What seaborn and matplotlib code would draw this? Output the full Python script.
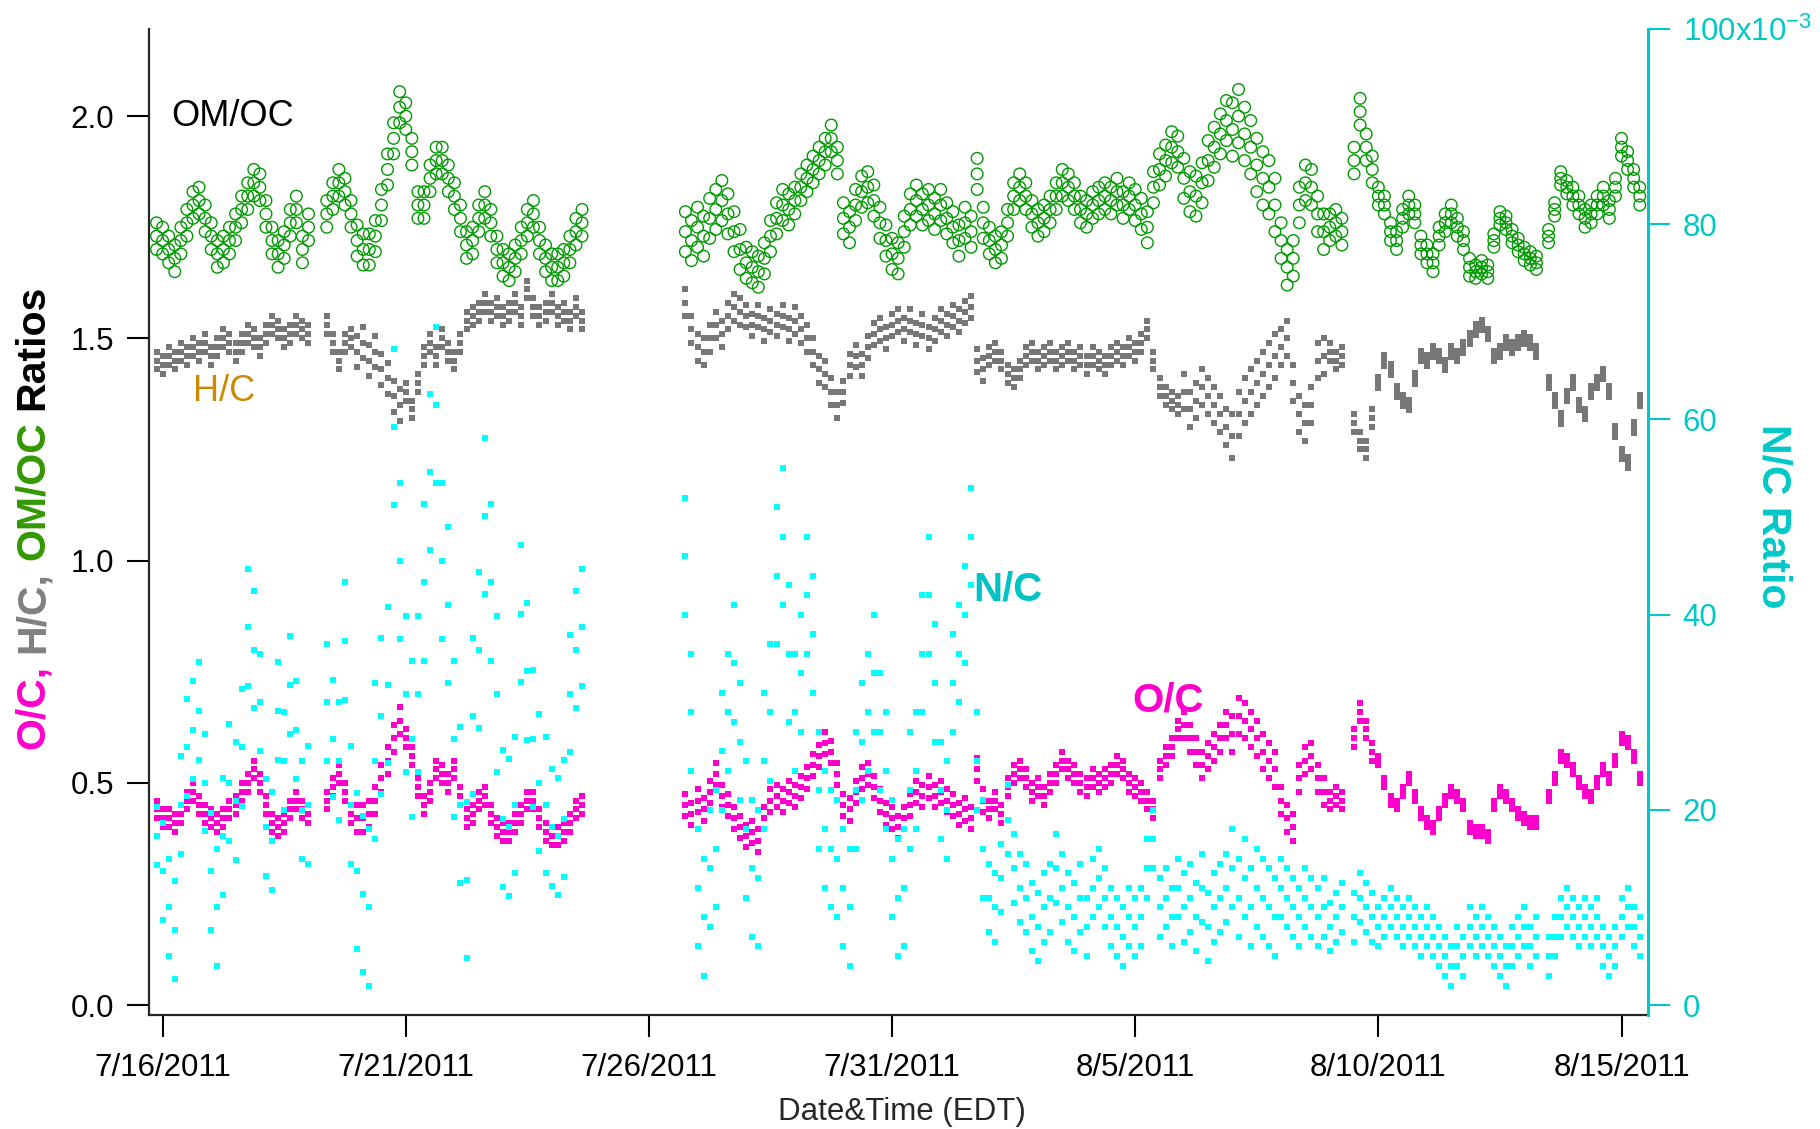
import numpy as np
import pandas as pd
import matplotlib
matplotlib.use("Agg")
import matplotlib.pyplot as plt
import matplotlib.dates as mdates
from matplotlib.ticker import FixedLocator, FixedFormatter
import seaborn as sns

nan = np.nan

# ---------------- data (3-hour sampling) ----------------
SEG1_START = "2011-07-15 21:00"   # first campaign block
SEG2_START = "2011-07-26 18:00"   # second campaign block
STEP = "3h"
DAY0 = "2011-07-15"               # first calendar day of the band-width lists

# OM/OC (left axis) - band centre
om_oc_seg1 = [1.73,
    1.72, 1.70, 1.68, 1.72, 1.76, 1.80, 1.81, 1.77,
    1.73, 1.69, 1.70, 1.72, 1.75, 1.79, 1.82, 1.85,
    1.84, 1.78, 1.72, 1.69, 1.71, 1.76, 1.79, 1.70,
    1.75, nan, nan, 1.78, 1.82, 1.85, 1.83, 1.78,
    1.72, 1.70, 1.70, 1.73, 1.80, 1.88, 1.95, 2.02,
    2.00, 1.92, 1.80, 1.80, 1.86, 1.90, 1.90, 1.86,
    1.82, 1.77, 1.71, 1.72, 1.77, 1.80, 1.76, 1.70,
    1.67, 1.66, 1.68, 1.72, 1.76, 1.78, 1.72, 1.68,
    1.66, 1.66, 1.67, 1.70, 1.74, 1.76]
om_oc_seg2 = [1.74, 1.72,
    1.75, 1.73, 1.77, 1.79, 1.81, 1.78, 1.74, 1.70,
    1.67, 1.66, 1.65, 1.68, 1.73, 1.77, 1.80, 1.79,
    1.81, 1.84, 1.86, 1.88, 1.90, 1.92, 1.95, 1.90,
    1.77, 1.75, 1.80, 1.83, 1.84, 1.81, 1.76, 1.72,
    1.69, 1.68, 1.74, 1.79, 1.81, 1.79, 1.80, 1.78,
    1.80, 1.77, 1.75, 1.72, 1.76, 1.74, 1.87, 1.76,
    1.72, 1.70, 1.71, 1.76, 1.82, 1.84, 1.82, 1.78,
    1.76, 1.77, 1.79, 1.82, 1.85, 1.84, 1.82, 1.79,
    1.78, 1.80, 1.81, 1.82, 1.81, 1.83, 1.80, 1.82,
    1.80, 1.78, 1.75, 1.84, 1.88, 1.90, 1.93, 1.92,
    1.86, 1.83, 1.82, 1.85, 1.90, 1.93, 1.96, 1.99,
    1.97, 2.00, 1.96, 1.93, 1.89, 1.86, 1.84, 1.80,
    1.72, 1.66, 1.68, 1.80, 1.85, 1.84, 1.78, 1.74,
    1.75, 1.76, 1.74, nan, 1.90, 2.01, 1.93, 1.88,
    1.82, 1.80, 1.74, 1.72, 1.77, 1.80, 1.78, 1.71,
    1.69, 1.67, 1.73, 1.76, 1.78, 1.75, 1.72, 1.66,
    1.65, 1.66, 1.65, 1.72, 1.77, 1.76, 1.73, 1.71,
    1.69, 1.68, 1.67, nan, 1.73, 1.79, 1.86, 1.84,
    1.82, 1.80, 1.77, 1.78, 1.80, 1.82, 1.79, 1.84,
    1.93, 1.90, 1.86, 1.82]
# half-width of the OM/OC point cloud, per calendar day 7/15 ... 8/15
om_oc_spread = [0.03, 0.03, 0.03, 0.03, 0.03, 0.035, 0.03, 0.03, 0.03, 0.03,
                0.0, 0.045, 0.045, 0.035, 0.03, 0.035, 0.035, 0.035, 0.03, 0.03,
                0.03, 0.035, 0.045, 0.06, 0.04, 0.03, 0.02, 0.02, 0.015, 0.015,
                0.02, 0.02]

# H/C (left axis)
h_c_seg1 = [1.45,
    1.44, 1.46, 1.45, 1.47, 1.46, 1.48, 1.47, 1.49,
    1.46, 1.48, 1.50, 1.49, 1.47, 1.49, 1.51, 1.50,
    1.48, 1.51, 1.53, 1.52, 1.50, 1.51, 1.53, 1.52,
    1.51, nan, nan, 1.53, 1.49, 1.45, 1.49, 1.50,
    1.47, 1.49, 1.45, 1.47, 1.43, 1.41, 1.37, 1.35,
    1.38, 1.34, 1.40, 1.46, 1.49, 1.46, 1.50, 1.47,
    1.45, 1.49, 1.54, 1.55, 1.56, 1.58, 1.56, 1.57,
    1.55, 1.56, 1.58, 1.55, 1.61, 1.57, 1.55, 1.56,
    1.58, 1.55, 1.56, 1.54, 1.57, 1.54]
h_c_seg2 = [1.58, 1.52,
    1.48, 1.47, 1.50, 1.53, 1.51, 1.55, 1.57, 1.56,
    1.55, 1.53, 1.55, 1.52, 1.54, 1.53, 1.55, 1.52,
    1.54, 1.52, 1.50, 1.47, 1.43, 1.42, 1.38, 1.35,
    1.38, 1.44, 1.46, 1.44, 1.48, 1.51, 1.52, 1.50,
    1.53, 1.54, 1.52, 1.54, 1.51, 1.53, 1.50, 1.52,
    1.54, 1.53, 1.55, 1.54, 1.56, 1.57, 1.45, 1.43,
    1.46, 1.47, 1.45, 1.42, 1.41, 1.43, 1.46, 1.47,
    1.45, 1.46, 1.47, 1.45, 1.46, 1.47, 1.45, 1.46,
    1.44, 1.46, 1.45, 1.44, 1.46, 1.47, 1.46, 1.48,
    1.47, 1.49, 1.52, 1.45, 1.39, 1.37, 1.36, 1.35,
    1.38, 1.34, 1.36, 1.39, 1.37, 1.35, 1.33, 1.30,
    1.28, 1.33, 1.36, 1.38, 1.40, 1.42, 1.44, 1.46,
    1.48, 1.50, 1.40, 1.33, 1.31, 1.35, 1.45, 1.46,
    1.47, 1.45, 1.46, nan, 1.31, 1.27, 1.25, 1.32,
    1.40, 1.45, 1.43, 1.38, 1.36, 1.35, 1.41, 1.46,
    1.45, 1.47, 1.46, 1.44, 1.47, 1.46, 1.48, 1.50,
    1.52, 1.53, 1.51, 1.46, 1.47, 1.49, 1.48, 1.49,
    1.50, 1.49, 1.47, nan, 1.40, 1.36, 1.32, 1.37,
    1.40, 1.35, 1.33, 1.38, 1.40, 1.42, 1.38, 1.29,
    1.24, 1.22, 1.30, 1.36]
h_c_spread = [0.02, 0.02, 0.02, 0.02, 0.02, 0.035, 0.02, 0.02, 0.02, 0.02,
              0.0, 0.03, 0.03, 0.025, 0.03, 0.025, 0.025, 0.025, 0.02, 0.02,
              0.02, 0.02, 0.04, 0.05, 0.04, 0.02, 0.012, 0.012, 0.012, 0.012,
              0.012, 0.012]

# O/C (left axis)
o_c_seg1 = [0.44,
    0.42, 0.42, 0.41, 0.43, 0.46, 0.48, 0.45, 0.43,
    0.42, 0.41, 0.42, 0.44, 0.45, 0.48, 0.50, 0.53,
    0.50, 0.45, 0.41, 0.40, 0.41, 0.44, 0.46, 0.44,
    0.43, nan, nan, 0.46, 0.49, 0.52, 0.48, 0.43,
    0.42, 0.42, 0.43, 0.46, 0.51, 0.55, 0.60, 0.64,
    0.60, 0.56, 0.49, 0.45, 0.48, 0.53, 0.52, 0.50,
    0.53, 0.47, 0.42, 0.43, 0.46, 0.47, 0.43, 0.40,
    0.39, 0.39, 0.41, 0.43, 0.46, 0.46, 0.42, 0.39,
    0.38, 0.38, 0.39, 0.41, 0.44, 0.45]
o_c_seg2 = [0.45, 0.43,
    0.46, 0.44, 0.48, 0.52, 0.47, 0.45, 0.42, 0.40,
    0.38, 0.39, 0.37, 0.42, 0.46, 0.47, 0.46, 0.48,
    0.47, 0.49, 0.51, 0.54, 0.56, 0.59, 0.57, 0.52,
    0.45, 0.44, 0.48, 0.51, 0.52, 0.49, 0.46, 0.43,
    0.42, 0.40, 0.42, 0.45, 0.48, 0.47, 0.49, 0.47,
    0.48, 0.46, 0.45, 0.43, 0.44, 0.42, 0.53, 0.46,
    0.44, 0.46, 0.43, 0.49, 0.52, 0.53, 0.51, 0.48,
    0.49, 0.47, 0.50, 0.52, 0.55, 0.53, 0.52, 0.50,
    0.49, 0.51, 0.50, 0.51, 0.52, 0.54, 0.53, 0.50,
    0.49, 0.48, 0.46, 0.44, 0.53, 0.56, 0.58, 0.62,
    0.63, 0.60, 0.57, 0.54, 0.56, 0.58, 0.60, 0.63,
    0.61, 0.65, 0.64, 0.62, 0.60, 0.57, 0.55, 0.53,
    0.46, 0.42, 0.40, 0.51, 0.55, 0.56, 0.51, 0.48,
    0.46, 0.47, 0.46, nan, 0.60, 0.66, 0.62, 0.57,
    0.55, 0.50, 0.46, 0.45, 0.48, 0.51, 0.47, 0.43,
    0.41, 0.40, 0.43, 0.46, 0.48, 0.47, 0.45, 0.40,
    0.39, 0.39, 0.38, 0.45, 0.48, 0.47, 0.45, 0.43,
    0.42, 0.41, 0.41, nan, 0.47, 0.51, 0.56, 0.55,
    0.53, 0.50, 0.48, 0.47, 0.50, 0.53, 0.51, 0.55,
    0.60, 0.59, 0.56, 0.51]
o_c_spread = [0.02, 0.02, 0.02, 0.02, 0.02, 0.03, 0.02, 0.02, 0.02, 0.02,
              0.0, 0.025, 0.025, 0.025, 0.025, 0.025, 0.025, 0.025, 0.02, 0.02,
              0.02, 0.02, 0.03, 0.04, 0.03, 0.02, 0.01, 0.01, 0.01, 0.01,
              0.01, 0.01]

# N/C in units of 1e-3 (right axis)
n_c_seg1 = [17.3,
    13.7, 10.0, 7.7, 20.5, 26.4, 28.2, 30.1, 22.8,
    13.7, 10.0, 17.3, 22.8, 20.9, 26.4, 38.7, 36.4,
    31.0, 18.2, 16.8, 30.1, 25.0, 32.8, 28.2, 20.0,
    20.5, nan, nan, 31.0, 27.3, 25.0, 37.3, 20.5,
    13.7, 11.4, 10.0, 25.0, 29.6, 32.8, 59.2, 45.5,
    31.9, 27.3, 31.9, 43.3, 54.6, 61.5, 45.5, 41.0,
    27.3, 20.5, 12.8, 29.6, 36.4, 50.1, 43.3, 31.9,
    19.1, 18.2, 20.5, 40.1, 34.2, 27.3, 22.8, 20.5,
    18.2, 17.3, 19.1, 31.9, 36.4, 38.7]
n_c_seg2 = [46, 30,
    12, 9, 14, 16, 26, 30, 35, 27,
    18, 14, 13, 25, 30, 44, 48, 36,
    30, 34, 42, 38, 22, 18, 16, 15,
    12, 10, 22, 27, 30, 34, 28, 24,
    15, 11, 12, 22, 24, 36, 42, 33,
    22, 20, 33, 36, 40, 48, 25, 16,
    11, 10, 13, 19, 14, 12, 11, 9,
    8, 10, 11, 14, 12, 10, 9, 11,
    8, 12, 13, 11, 9, 8, 7, 9,
    8, 9, 14, 17, 10, 11, 9, 12,
    10, 11, 9, 12, 8, 10, 11, 12,
    14, 11, 13, 10, 12, 11, 10, 9,
    12, 11, 10, 9, 11, 10, 9, 10,
    8, 9, 10, nan, 9, 11, 10, 9,
    8, 9, 10, 9, 8, 9, 8, 7,
    8, 7, 6, 5, 4, 6, 5, 8,
    7, 8, 7, 6, 5, 4, 6, 7,
    8, 6, 7, nan, 5, 7, 9, 10,
    9, 8, 9, 8, 9, 6, 5, 6,
    9, 10, 8, 7]
n_c_spread = [3, 5, 6, 5, 6, 8, 8, 8, 7, 6,
              0, 6, 6, 7, 6, 6, 6, 5, 3.5, 3.5,
              3, 3, 3.5, 4, 3, 2.5, 2, 2, 2, 2,
              2, 2]

xtick_dates = ["2011-07-16", "2011-07-21", "2011-07-26", "2011-07-31",
               "2011-08-05", "2011-08-10", "2011-08-15"]
xtick_labels = ["7/16/2011", "7/21/2011", "7/26/2011", "7/31/2011",
                "8/5/2011", "8/10/2011", "8/15/2011"]
left_ticks = [0.0, 0.5, 1.0, 1.5, 2.0]
left_tick_labels = ["0.0", "0.5", "1.0", "1.5", "2.0"]
right_ticks = [0, 20, 40, 60, 80, 100]
right_tick_labels = ["0", "20", "40", "60", "80", "100x10$^{-3}$"]


def series_frame(seg1, seg2, spread, name):
    """Centre values plus the lower / upper edge of the point cloud read per day."""
    t1 = pd.date_range(SEG1_START, periods=len(seg1), freq=STEP)
    t2 = pd.date_range(SEG2_START, periods=len(seg2), freq=STEP)
    times = pd.DatetimeIndex(list(t1) + list(t2))
    vals = np.array(list(seg1) + list(seg2), dtype=float)
    day_idx = (times.normalize() - pd.Timestamp(DAY0)).days
    hw = np.array(spread, dtype=float)[day_idx]
    df = pd.DataFrame({
        "time": np.concatenate([times, times, times]),
        name: np.concatenate([vals - hw, vals, vals + hw]),
    })
    return df.dropna()


df_om = series_frame(om_oc_seg1, om_oc_seg2, om_oc_spread, "OM/OC")
df_hc = series_frame(h_c_seg1, h_c_seg2, h_c_spread, "H/C")
df_oc = series_frame(o_c_seg1, o_c_seg2, o_c_spread, "O/C")
df_nc = series_frame(n_c_seg1, n_c_seg2, n_c_spread, "N/C")

# ---------------- styling ----------------
sns.set_style("ticks")
plt.rcParams["font.family"] = ["Liberation Sans", "DejaVu Sans"]
plt.rcParams["mathtext.fontset"] = "custom"
plt.rcParams["mathtext.rm"] = "Liberation Sans"
plt.rcParams["mathtext.it"] = "Liberation Sans:italic"
plt.rcParams["mathtext.bf"] = "Liberation Sans:bold"
plt.rcParams["mathtext.default"] = "regular"

W, H = 1820, 1129
fig, ax = plt.subplots(figsize=(W / 100, H / 100), dpi=100)
fig.subplots_adjust(left=0.0817, right=0.9055, bottom=0.1014, top=0.9743)

GREEN = "#009900"
GRAY = "#777777"
MAGENTA = "#FF00CC"
CYAN = "#00FFFF"
CYAN_AXIS = "#00C8C8"

sns.scatterplot(data=df_om, x="time", y="OM/OC", ax=ax, marker="o", s=70,
                color=GREEN, facecolors="none", edgecolor=GREEN, linewidth=1.0, zorder=3)
sns.scatterplot(data=df_hc, x="time", y="H/C", ax=ax, marker="s", s=24,
                color=GRAY, linewidth=0, zorder=3)
sns.scatterplot(data=df_oc, x="time", y="O/C", ax=ax, marker="s", s=24,
                color=MAGENTA, linewidth=0, zorder=3)

ax2 = ax.twinx()
sns.scatterplot(data=df_nc, x="time", y="N/C", ax=ax2, marker="s", s=24,
                color=CYAN, linewidth=0, zorder=3)

# axes limits
xmin = pd.Timestamp("2011-07-15 17:08")
xmax = pd.Timestamp("2011-08-15 13:05")
ax.set_xlim(mdates.date2num(xmin), mdates.date2num(xmax))
ax.set_ylim(-0.0214, 2.196)
ax2.set_ylim(-0.97, 100.0)

# ticks
xt = mdates.date2num(pd.to_datetime(xtick_dates))
ax.xaxis.set_major_locator(FixedLocator(xt))
ax.xaxis.set_major_formatter(FixedFormatter(xtick_labels))
ax.yaxis.set_major_locator(FixedLocator(left_ticks))
ax.yaxis.set_major_formatter(FixedFormatter(left_tick_labels))
ax2.yaxis.set_major_locator(FixedLocator(right_ticks))
ax2.yaxis.set_major_formatter(FixedFormatter(right_tick_labels))
ax.minorticks_off()
ax2.minorticks_off()

ax.tick_params(axis="y", direction="out", length=16, width=1.5,
               labelsize=22.5, pad=9, colors="black")
ax.tick_params(axis="x", direction="out", length=16, width=1.5,
               labelsize=22.5, pad=12, colors="black")
ax2.tick_params(axis="y", direction="out", length=16, width=1.5,
                labelsize=22.5, pad=9, colors=CYAN_AXIS)

for s in ["top", "right"]:
    ax.spines[s].set_visible(False)
for s in ["top", "left", "bottom"]:
    ax2.spines[s].set_visible(False)
ax.spines["left"].set_linewidth(1.6)
ax.spines["bottom"].set_linewidth(1.6)
ax2.spines["right"].set_linewidth(2.2)
ax2.spines["right"].set_color(CYAN_AXIS)

ax.set_xlabel("")
ax.set_ylabel("")
ax2.set_ylabel("")

# in-plot annotations
def dnum(s):
    return mdates.date2num(pd.Timestamp(s))

ax.text(dnum("2011-07-16 04:12"), 2.0, "OM/OC", fontsize=26, color="black",
        ha="left", va="center")
ax.text(dnum("2011-07-16 15:00"), 1.381, "H/C", fontsize=26, color="#CC8800",
        ha="left", va="center")
ax.text(dnum("2011-08-01 16:00"), 0.936, "N/C", fontsize=29, color="#00C4C4",
        fontweight="bold", ha="left", va="center")
ax.text(dnum("2011-08-04 22:30"), 0.686, "O/C", fontsize=29, color=MAGENTA,
        fontweight="bold", ha="left", va="center")

# axis titles
fig.text(902 / W, 1 - 1112 / H, "Date&Time (EDT)", fontsize=22.5,
         ha="center", va="center")
fig.text(1773.6 / W, 1 - 516.5 / H, "N/C Ratio", fontsize=29.5, fontweight="bold",
         color=CYAN_AXIS, rotation=270, ha="center", va="center")

renderer = fig.canvas.get_renderer()
pieces = [("O/C,", MAGENTA), ("H/C,", "#808080"), ("OM/OC", "#339900"), ("Ratios", "black")]
y_px = H - 749.0
x_px = 32.5
space_px = 0.278 * 29.5 * 100 / 72
for txt, col in pieces:
    t = fig.text(x_px / W, y_px / H, txt, rotation=90, ha="center", va="bottom",
                 color=col, fontsize=29.5, fontweight="bold")
    bb = t.get_window_extent(renderer)
    y_px += bb.height + space_px

fig.savefig("out.png", dpi=100)
